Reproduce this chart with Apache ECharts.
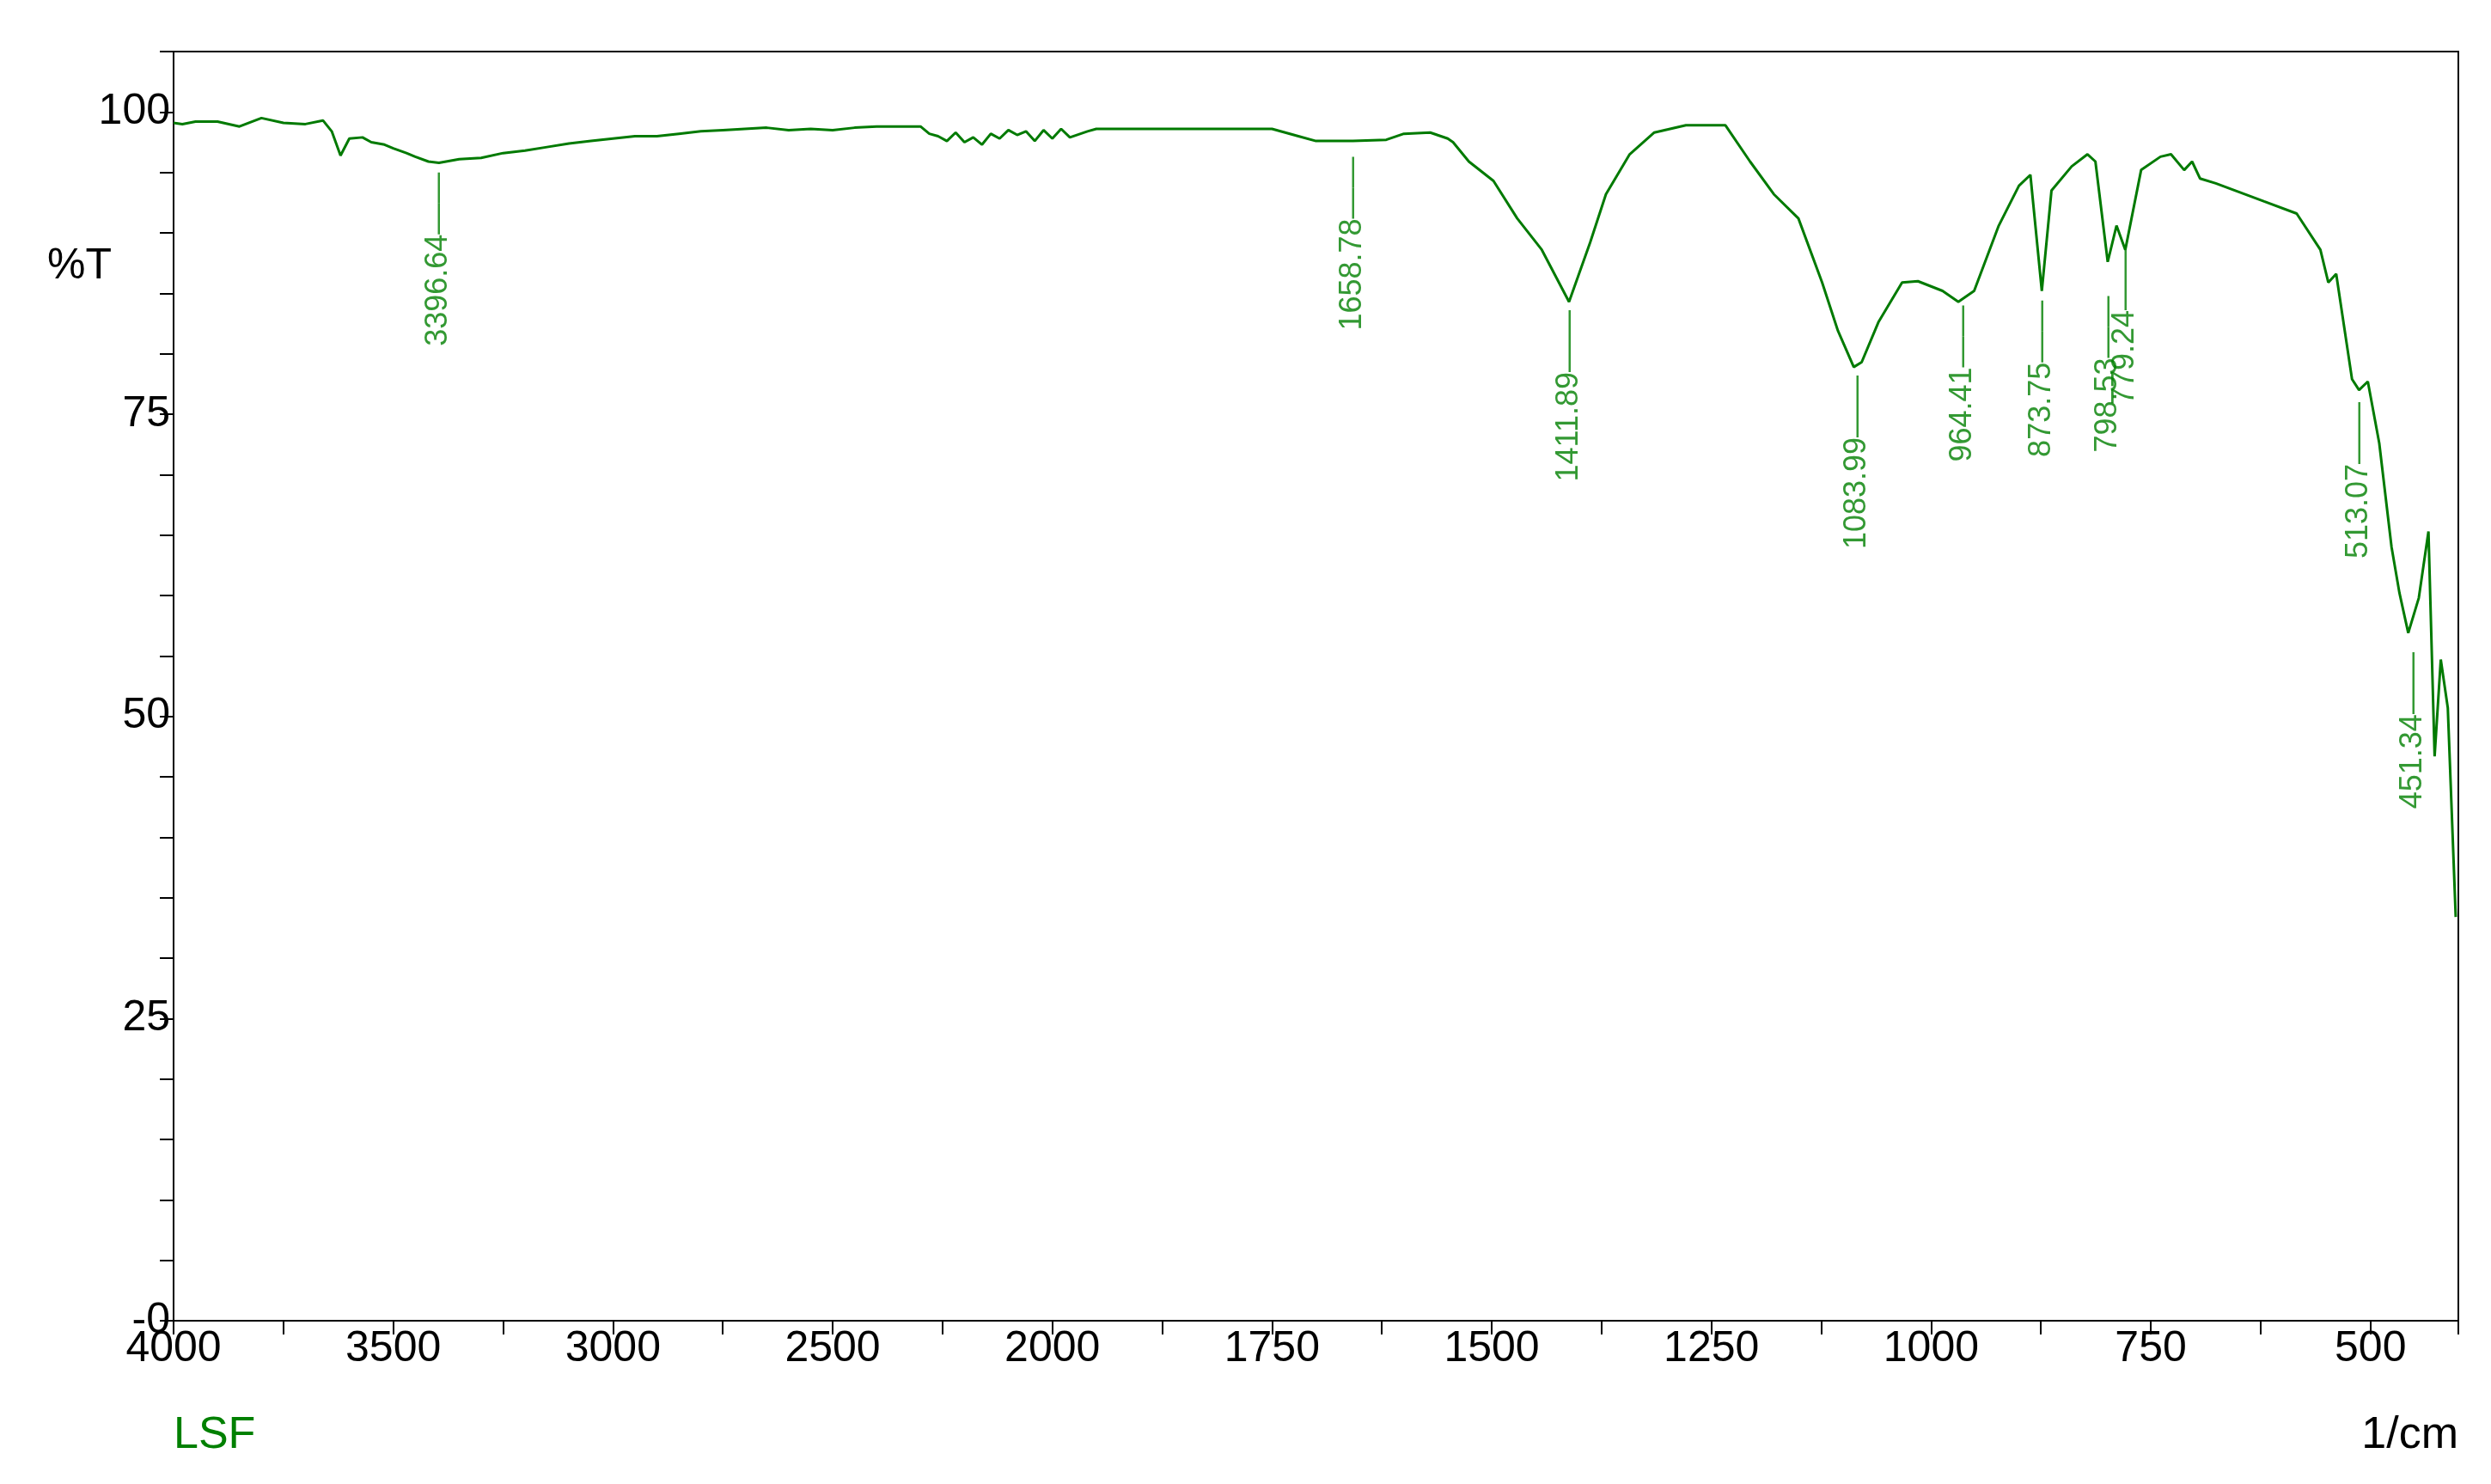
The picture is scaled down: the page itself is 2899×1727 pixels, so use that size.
<!DOCTYPE html>
<html><head><meta charset="utf-8">
<script src="https://cdn.jsdelivr.net/npm/echarts@6/dist/echarts.min.js"></script>
<style>html,body{margin:0;padding:0;background:#fff}#c{width:2899px;height:1727px}</style>
</head><body><div id="c"></div>
<script>
const wavenumbers=[4000,3980,3950,3900,3850,3800,3750,3700,3660,3640,3620,3600,3570,3550,3520,3500,3470,3450,3420,3396,3350,3300,3250,3200,3150,3100,3050,3000,2950,2900,2850,2800,2750,2700,2650,2600,2550,2500,2450,2400,2350,2300,2280,2260,2240,2220,2200,2180,2160,2140,2120,2100,2080,2060,2040,2020,2000,1990,1980,1960,1950,1900,1850,1800,1750,1720,1700,1658,1620,1600,1570,1550,1544,1526,1498,1471,1443,1412,1388,1370,1343,1315,1279,1234,1206,1179,1151,1124,1106,1088,1079,1060,1033,1015,987,969,951,923,900,887,874,863,840,822,813,799,789,779,761,739,727,712,703,694,676,621,584,557,548,539,521,513,503,490,476,467,457,445,434,427,420,412,403];
const transmittance=[99.1,99.0,99.2,99.2,98.8,99.5,99.1,99.0,99.3,98.4,96.4,97.8,97.9,97.5,97.3,97.0,96.6,96.3,95.9,95.8,96.1,96.2,96.6,96.8,97.1,97.4,97.6,97.8,98.0,98.0,98.2,98.4,98.5,98.6,98.7,98.5,98.6,98.5,98.7,98.8,98.8,98.8,98.2,98.0,97.6,98.3,97.5,97.9,97.3,98.2,97.8,98.5,98.1,98.4,97.6,98.5,97.8,98.6,97.9,98.4,98.6,98.6,98.6,98.6,98.6,98.0,97.6,97.6,97.7,98.2,98.3,97.8,97.5,95.9,94.3,91.2,88.6,84.3,89.2,93.2,96.5,98.3,98.9,98.9,95.9,93.2,91.2,85.9,81.9,78.9,79.3,82.6,85.9,86.0,85.2,84.3,85.2,90.6,93.9,94.8,85.2,93.5,95.5,96.5,95.9,87.6,90.6,88.6,95.2,96.3,96.5,95.2,95.9,94.5,94.1,92.6,91.6,88.6,85.9,86.6,77.9,77.0,77.7,72.6,64.0,60.2,56.9,59.8,65.3,46.7,54.7,50.7,33.4];
const peakWn=[3396.64,1658.78,1411.89,1083.99,964.41,873.75,798.53,779.24,513.07,451.34];
const peakAnchorT=[95.0,96.3,83.6,78.2,84.0,84.4,86.2,87.3,76.0,55.3];
const peakShift=[0,0,0,0,0,0,-20,20,0,0];
const yTicks=[0,25,50,75,100];

function toU(w){const xp=w<=2000?w:2000+(w-2000)/2;return 3000-xp;}
function fromU(u){const xp=3000-u;return xp<=2000?xp:2000+(xp-2000)*2;}
const green='#008000';
const lineData=wavenumbers.map((w,i)=>[toU(w),transmittance[i]]);
const peakData=peakWn.map((w,i)=>({value:[toU(w),peakAnchorT[i]],name:w.toFixed(2),
  label:{offset:[peakShift[i],0]}}));
const chart=echarts.init(document.getElementById('c'));
chart.setOption({
  animation:false,
  grid:{left:202,top:60,width:2659,height:1477,show:true,borderColor:'#000',borderWidth:2,backgroundColor:'transparent'},
  xAxis:{type:'value',min:0,max:2600,interval:125,
    axisLine:{lineStyle:{color:'#000',width:2}},
    axisTick:{length:16,lineStyle:{color:'#000',width:2}},
    splitLine:{show:false},
    axisLabel:{fontFamily:'Liberation Sans',fontSize:50,color:'#000',margin:8,
      formatter:v=>(v%250===0?String(Math.round(fromU(v))):'')}},
  yAxis:{type:'value',min:0,max:105,interval:5,
    axisLine:{lineStyle:{color:'#000',width:2}},
    axisTick:{length:16,lineStyle:{color:'#000',width:2}},
    splitLine:{show:false},
    axisLabel:{fontFamily:'Liberation Sans',fontSize:50,color:'#000',margin:4,
      formatter:v=>(yTicks.indexOf(v)>=0?(v===0?'-0':String(v)):'')}},
  graphic:[
    {type:'text',left:55,top:285,style:{text:'%T',font:'50px "Liberation Sans"',fill:'#000'}},
    {type:'text',left:202,top:1645,style:{text:'LSF',font:'52px "Liberation Sans"',fill:green}},
    {type:'text',right:38,top:1645,style:{text:'1/cm',font:'52px "Liberation Sans"',fill:'#000'}}
  ],
  series:[
    {type:'line',data:lineData,symbol:'none',lineStyle:{color:'#007a00',width:3},z:3},
    {type:'scatter',data:peakData,symbolSize:0,z:4,
      label:{show:true,position:'inside',rotate:90,align:'right',verticalAlign:'middle',
        formatter:p=>p.name+'——',fontFamily:'Liberation Sans',fontSize:36,color:green}}
  ]
});
</script></body></html>
